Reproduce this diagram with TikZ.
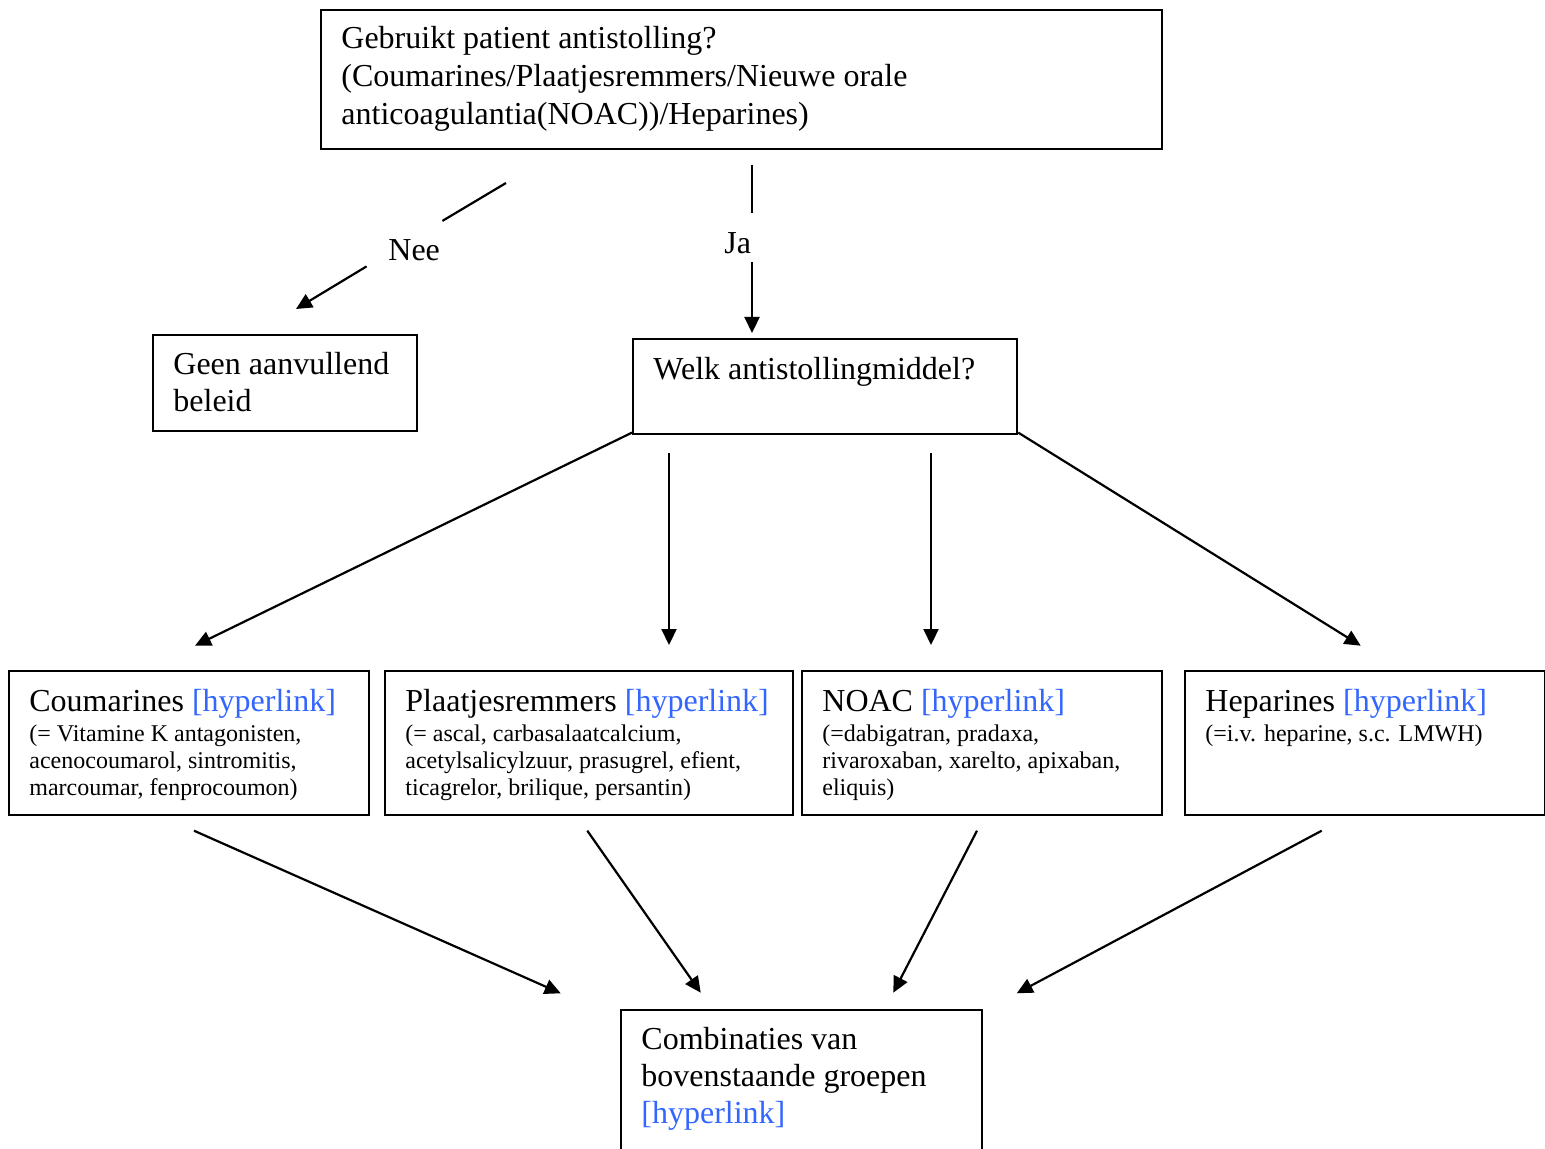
\documentclass[tikz,border=0pt]{standalone}
\usepackage{fontspec}
\setmainfont{Liberation Serif}
\usetikzlibrary{arrows.meta}
\definecolor{linkblue}{RGB}{51,102,255}
\newcommand\hlink{\textcolor{linkblue}{[hyperlink]}}
\tikzset{
  box/.style={draw, line width=1.1pt, rectangle, inner sep=0pt, anchor=north west},
  conn/.style={line width=1.1pt, -{Triangle[length=8pt,width=7.5pt]}},
  plainline/.style={line width=1.1pt},
  gap/.style={inner sep=0pt},
  bigtxt/.style={anchor=base west, inner sep=0pt, font=\fontsize{16pt}{18.5pt}\selectfont},
  smalltxt/.style={anchor=base west, inner sep=0pt, font=\fontsize{12pt}{13.5pt}\selectfont},
}
\begin{document}
\begin{tikzpicture}[x=0.5pt, y=-0.5pt]
  \clip (0,0) rectangle (1545,1149);
  \fill[white] (0,0) rectangle (1545,1149);

  % boxes
  \node[box, minimum width=420.5pt, minimum height=69.5pt] (top) at (320,9) {};
  \node[box, minimum width=132pt, minimum height=48pt] (geen) at (152,334) {};
  \node[box, minimum width=192pt, minimum height=47.5pt] (welk) at (632,338) {};
  \node[box, minimum width=180pt, minimum height=72pt] (coum) at (8,670) {};
  \node[box, minimum width=204pt, minimum height=72pt] (plaat) at (384,670) {};
  \node[box, minimum width=180pt, minimum height=72pt] (noac) at (801,670) {};
  \node[box, minimum width=180pt, minimum height=72pt] (hep) at (1184,670) {};
  \node[box, minimum width=180.5pt, minimum height=80pt] (comb) at (620,1009) {};

  % box texts
  \node[bigtxt, font=\fontsize{16pt}{19pt}\selectfont] (top-t) at (341,49)
    {\parbox[t]{400pt}{Gebruikt patient antistolling?\\
     (Coumarines/Plaatjesremmers/Nieuwe orale\\
     anticoagulantia(NOAC))/Heparines)}};
  \node[bigtxt] (geen-t) at (173,375) {\parbox[t]{120pt}{Geen aanvullend\\beleid}};
  \node[bigtxt] (welk-t) at (653,380) {Welk antistollingmiddel?};

  \node[bigtxt] (coum-t) at (29,711) {Coumarines \hlink};
  \node[smalltxt] (coum-s) at (29,741)
    {\parbox[t]{170pt}{(= Vitamine K antagonisten,\\acenocoumarol, sintromitis,\\marcoumar, fenprocoumon)}};
  \node[bigtxt] (plaat-t) at (405,711) {Plaatjesremmers \hlink};
  \node[smalltxt] (plaat-s) at (405,741)
    {\parbox[t]{190pt}{(= ascal, carbasalaatcalcium,\\acetylsalicylzuur, prasugrel, efient,\\ticagrelor, brilique, persantin)}};
  \node[bigtxt] (noac-t) at (822,711) {NOAC \hlink};
  \node[smalltxt] (noac-s) at (822,741)
    {\parbox[t]{170pt}{(=dabigatran, pradaxa,\\rivaroxaban, xarelto, apixaban,\\eliquis)}};
  \node[bigtxt] (hep-t) at (1205,711) {Heparines \hlink};
  \node[smalltxt] (hep-s) at (1205,741) {(=i.v. heparine, s.c. LMWH)};

  \node[bigtxt] (comb-t) at (641,1049)
    {\parbox[t]{170pt}{Combinaties van\\bovenstaande groepen\\\hlink}};

  % Nee / Ja branches
  \coordinate (neeS) at (506,183);
  \coordinate (neeE) at (296,309);
  \node[gap, minimum width=37.5pt, minimum height=22.5pt] (neegap) at (404.5,243.5) {};
  \node[bigtxt] (nee) at (388,261) {Nee};
  \draw[plainline] (neeS) -- (neegap);
  \draw[conn] (neegap) -- (neeE);

  \coordinate (jaS) at (752,165);
  \coordinate (jaE) at (752,333);
  \node[gap, minimum width=1pt, minimum height=24.5pt] (jagap) at (752,237.5) {};
  \node[bigtxt] (ja) at (724,254) {Ja};
  \draw[plainline] (jaS) -- (jagap.north);
  \draw[conn] (jagap.south) -- (jaE);

  % from the question box to the four groups
  \coordinate (tipC) at (195,645.7);
  \coordinate (srcP) at (669,453);
  \coordinate (tipP) at (669,645);
  \coordinate (srcN) at (931,453);
  \coordinate (tipN) at (931,645);
  \coordinate (tipH) at (1360.7,645.7);
  \draw[conn] ([yshift=1.3pt]welk.south west) -- (tipC);
  \draw[conn] (srcP) -- (tipP);
  \draw[conn] (srcN) -- (tipN);
  \draw[conn] ([yshift=1.3pt]welk.south east) -- (tipH);

  % from the four groups to the combinations box
  \coordinate (c1) at (194,830.7);
  \coordinate (c2) at (587.3,830.7);
  \coordinate (c3) at (977,830.7);
  \coordinate (c4) at (1321.7,830.7);
  \coordinate (d1) at (560.7,993.3);
  \coordinate (d2) at (700.7,992.7);
  \coordinate (d3) at (893.3,992.7);
  \coordinate (d4) at (1016.7,993.3);
  \draw[conn] (c1) -- (d1);
  \draw[conn] (c2) -- (d2);
  \draw[conn] (c3) -- (d3);
  \draw[conn] (c4) -- (d4);
\end{tikzpicture}
\end{document}
